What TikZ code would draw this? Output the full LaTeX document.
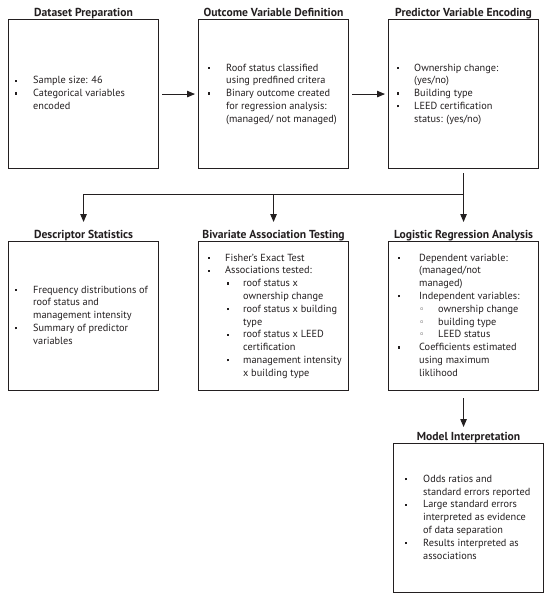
\documentclass[tikz,border=0pt]{standalone}
\usepackage{fontspec}
\setmainfont{PT Sans}
\newfontfamily\symfont{DejaVu Sans}
\usetikzlibrary{arrows.meta}
\definecolor{ink}{HTML}{231F20}
\newcommand{\bul}{\rule[0.2em]{2.2bp}{2.2bp}}
\newcommand{\cir}{{\symfont\fontsize{9bp}{9bp}\selectfont ◦}}
\begin{document}
\begin{tikzpicture}[x=1bp,y=-1bp,
  box/.style={draw=ink, line width=1.1bp, minimum width=150bp, minimum height=149bp, inner sep=0pt, anchor=north west},
  ttl/.style={font=\bfseries\fontsize{11.6bp}{13bp}\selectfont, text=ink, anchor=base, inner sep=0pt},
  body/.style={font=\fontsize{10.3bp}{12.8bp}\selectfont, text=ink, anchor=west, inner sep=0pt, align=left},
  link/.style={draw=ink, line width=0.9bp},
  arr/.style={link, -{Triangle[length=8bp,width=6.5bp]}}]
\useasboundingbox (0,0) rectangle (550,602);
\fill[white] (0,0) rectangle (550,602);
% boxes
\node[box] (b1) at (8,19) {};
\node[box] (b2) at (198,19) {};
\node[box] (b3) at (388,19) {};
\node[box] (b4) at (8,241) {};
\node[box] (b5) at (198,241) {};
\node[box] (b6) at (388,241) {};
\node[box] (b7) at (393,443) {};
% titles
\node[ttl] (h1) at ([yshift=2.5bp]b1.north) {Dataset Preparation};
\node[ttl] (h2) at ([yshift=2.5bp]b2.north) {Outcome Variable Definition};
\node[ttl] (h3) at ([yshift=2.5bp]b3.north) {Predictor Variable Encoding};
\node[ttl] (h4) at ([yshift=2.5bp]b4.north) {Descriptor Statistics};
\node[ttl] (h5) at ([yshift=2.5bp]b5.north) {Bivariate Association Testing};
\node[ttl] (h6) at ([yshift=2.5bp]b6.north) {Logistic Regression Analysis};
\node[ttl] (h7) at ([yshift=2.5bp]b7.north) {Model Interpretation};
% bodies
\node[body] (t1) at ([xshift=7bp]b1.west) {\begin{tabular}{@{}p{18bp}@{}l@{}}
\bul & Sample size: 46\\
\bul & Categorical variables\\
 & encoded
\end{tabular}};
\node[body] (t2) at ([xshift=10bp]b2.west) {\begin{tabular}{@{}p{18bp}@{}l@{}}
\bul & Roof status classified\\
 & using predfined critera\\
\bul & Binary outcome created\\
 & for regression analysis:\\
 & (managed/ not managed)
\end{tabular}};
\node[body] (t3) at ([xshift=9bp]b3.west) {\begin{tabular}{@{}p{17bp}@{}l@{}}
\bul & Ownership change:\\
 & (yes/no)\\
\bul & Building type\\
\bul & LEED certification\\
 & status: (yes/no)
\end{tabular}};
\node[body] (t4) at ([xshift=7bp]b4.west) {\begin{tabular}{@{}p{18bp}@{}l@{}}
\bul & Frequency distributions of\\
 & roof status and\\
 & management intensity\\
\bul & Summary of predictor\\
 & variables
\end{tabular}};
\node[body] (t5) at ([xshift=10bp]b5.west) {\begin{tabular}{@{}p{17bp}@{}p{18bp}@{}l@{}}
\bul & \multicolumn{2}{@{}l@{}}{Fisher’s Exact Test}\\
\bul & \multicolumn{2}{@{}l@{}}{Associations tested:}\\
 & \hspace{2bp}\bul & roof status x\\
 & & ownership change\\
 & \hspace{2bp}\bul & roof status x building\\
 & & type\\
 & \hspace{2bp}\bul & roof status x LEED\\
 & & certification\\
 & \hspace{2bp}\bul & management intensity\\
 & & x building type
\end{tabular}};
\node[body] (t6) at ([xshift=10bp]b6.west) {\begin{tabular}{@{}p{21bp}@{}p{19bp}@{}l@{}}
\bul & \multicolumn{2}{@{}l@{}}{Dependent variable:}\\
 & \multicolumn{2}{@{}l@{}}{(managed/not}\\
 & \multicolumn{2}{@{}l@{}}{managed)}\\
\bul & \multicolumn{2}{@{}l@{}}{Independent variables:}\\
 & \cir & ownership change\\
 & \cir & building type\\
 & \cir & LEED status\\
\bul & \multicolumn{2}{@{}l@{}}{Coefficients estimated}\\
 & \multicolumn{2}{@{}l@{}}{using maximum}\\
 & \multicolumn{2}{@{}l@{}}{liklihood}
\end{tabular}};
\node[body] (t7) at ([xshift=12bp]b7.west) {\begin{tabular}{@{}p{18bp}@{}l@{}}
\bul & Odds ratios and\\
 & standard errors reported\\
\bul & Large standard errors\\
 & interpreted as evidence\\
 & of data separation\\
\bul & Results interpreted as\\
 & associations
\end{tabular}};
% connectors
\draw[arr] ([xshift=3bp]b1.east) -- ([xshift=-3bp]b2.west);
\draw[arr] ([xshift=3bp]b2.east) -- ([xshift=-3bp]b3.west);
\coordinate (j) at (b3.south |- 0,194);
\coordinate (j1) at (b1.south |- 0,194);
\coordinate (j2) at (b2.south |- 0,194);
\coordinate (a4) at (b4.north |- 0,222);
\coordinate (a5) at (b5.north |- 0,222);
\coordinate (a6) at (b6.north |- 0,222);
\coordinate (s7) at (b6.south |- 0,398);
\coordinate (a7) at (b6.south |- 0,427);
\draw[link] ([yshift=-4bp]b3.south) -- (j) -- (j1);
\draw[arr] (j1) -- (a4);
\draw[arr] (j2) -- (a5);
\draw[arr] (j) -- (a6);
\draw[arr] (s7) -- (a7);
\end{tikzpicture}
\end{document}
